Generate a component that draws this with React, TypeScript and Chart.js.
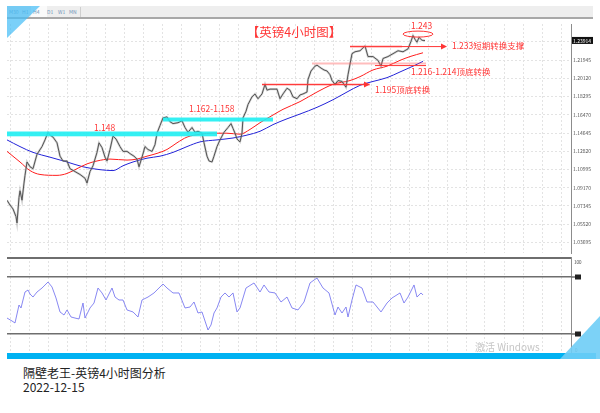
import React, { useEffect, useRef } from 'react';
import { Chart, registerables } from 'chart.js';

Chart.register(...registerables);

const FONT = '"Noto Sans CJK SC", "Noto Sans", sans-serif';

// ---------------- data ----------------
// x = bar number counted from the first visible 4h bar
const priceBars = [
  0, 3, 6, 9, 10, 12, 13, 15, 17, 18,
  20, 23, 26, 30, 35, 38, 41, 43, 46, 50,
  53, 56, 60, 63, 68, 73, 78, 80, 83, 86,
  90, 92, 95, 98, 100, 103, 106, 109, 113, 116,
  120, 124, 127, 130, 132, 135, 138, 141, 145, 148,
  150, 153, 156, 160, 163, 166, 171, 175, 178, 181,
  185, 188, 191, 195, 197, 200, 202, 205, 207, 210,
  213, 217, 221, 224, 226, 228, 230, 233, 235, 236,
  239, 241, 245, 248, 251, 255, 258, 260, 263, 266,
  270, 273, 276, 280, 283, 286, 290, 293, 296, 300,
  301, 304, 308, 310, 314, 317, 320, 323, 325, 328,
  331, 335, 339, 341, 345, 348, 353, 358, 361, 366,
  371, 374, 376, 381, 386, 391, 396, 401, 404, 406,
  408, 410, 412, 415, 418,
];
const priceClose = [
  1.0792, 1.0744, 1.0705, 1.0628, 1.0565, 1.0820, 1.0887, 1.0792, 1.0964, 1.1041,
  1.1175, 1.1127, 1.1108, 1.1252, 1.1329, 1.1396, 1.1472, 1.1444, 1.1424, 1.1367,
  1.1233, 1.1185, 1.1185, 1.1108, 1.1079, 1.1050, 1.1012, 1.0964, 1.1079, 1.1137,
  1.1271, 1.1367, 1.1319, 1.1223, 1.1185, 1.1300, 1.1434, 1.1405, 1.1329, 1.1281,
  1.1281, 1.1252, 1.1233, 1.1204, 1.1127, 1.1223, 1.1329, 1.1300, 1.1281, 1.1348,
  1.1463, 1.1540, 1.1616, 1.1626, 1.1578, 1.1559, 1.1568, 1.1587, 1.1520, 1.1472,
  1.1520, 1.1472, 1.1482, 1.1463, 1.1367, 1.1233, 1.1185, 1.1175, 1.1233, 1.1329,
  1.1396, 1.1472, 1.1520, 1.1559, 1.1511, 1.1463, 1.1405, 1.1376, 1.1463, 1.1616,
  1.1683, 1.1750, 1.1827, 1.1856, 1.1808, 1.1856, 1.1952, 1.1894, 1.1904, 1.1904,
  1.1904, 1.1808, 1.1856, 1.1913, 1.1894, 1.1827, 1.1808, 1.1846, 1.1856, 1.1875,
  1.2000, 1.2086, 1.2134, 1.2144, 1.2115, 1.2096, 1.2086, 1.2048, 1.1990, 1.1952,
  1.1990, 1.1981, 1.1923, 1.2048, 1.2259, 1.2278, 1.2288, 1.2336, 1.2230, 1.2230,
  1.2192, 1.2134, 1.2211, 1.2230, 1.2259, 1.2288, 1.2278, 1.2307, 1.2383, 1.2441,
  1.2403, 1.2374, 1.2422, 1.2393, 1.2391,
];

const redMaBars = [
  0, 13, 23, 33, 50, 60, 70, 80, 90, 103,
  120, 130, 140, 150, 160, 170, 180, 193, 206, 220,
  233, 243, 253, 266, 276, 293, 310, 326, 343, 353,
  366, 380, 393, 403, 416,
];
const redMaValues = [
  1.1281, 1.1175, 1.1089, 1.1050, 1.1041, 1.1060, 1.1108, 1.1156, 1.1185, 1.1204,
  1.1194, 1.1204, 1.1233, 1.1261, 1.1300, 1.1367, 1.1424, 1.1453, 1.1463, 1.1463,
  1.1453, 1.1501, 1.1568, 1.1645, 1.1702, 1.1779, 1.1875, 1.1952, 1.1990, 1.2029,
  1.2096, 1.2134, 1.2192, 1.2230, 1.2268,
];

const blueMaBars = [
  0, 13, 26, 43, 60, 76, 93, 106, 116, 126,
  140, 153, 166, 180, 193, 210, 226, 240, 253, 266,
  280, 293, 310, 326, 340, 353, 366, 380, 393, 406,
  416,
];
const blueMaValues = [
  1.1396, 1.1329, 1.1271, 1.1223, 1.1175, 1.1127, 1.1098, 1.1089, 1.1137, 1.1175,
  1.1213, 1.1233, 1.1271, 1.1329, 1.1376, 1.1396, 1.1415, 1.1444, 1.1482, 1.1549,
  1.1607, 1.1655, 1.1722, 1.1798, 1.1875, 1.1942, 1.1981, 1.2019, 1.2076, 1.2134,
  1.2182,
];

const oscBars = [
  0, 5, 8, 12, 14, 18, 21, 23, 26, 30,
  35, 41, 45, 49, 53, 57, 60, 64, 68, 72,
  76, 78, 83, 87, 91, 95, 99, 105, 108, 112,
  116, 120, 126, 131, 135, 141, 147, 151, 156, 160,
  166, 172, 178, 183, 187, 191, 195, 201, 204, 207,
  210, 214, 218, 222, 226, 230, 233, 239, 247, 253,
  257, 262, 268, 274, 280, 285, 291, 297, 303, 307,
  310, 316, 322, 328, 331, 335, 339, 341, 345, 349,
  355, 360, 366, 374, 380, 385, 393, 397, 401, 407,
  410, 414, 416,
];
const oscValues = [
  36.8, 33.7, 31.6, 50.5, 47.4, 64.2, 66.3, 62.1, 58.9, 64.2,
  68.4, 74.7, 69.5, 57.9, 43.2, 40.0, 45.3, 37.9, 36.8, 35.8,
  52.6, 36.8, 47.4, 52.6, 68.4, 63.2, 55.8, 68.4, 58.9, 55.8,
  55.8, 45.3, 43.2, 37.9, 55.8, 58.9, 63.2, 67.4, 72.6, 68.4,
  63.2, 63.2, 47.4, 48.4, 53.7, 42.1, 43.2, 24.2, 29.5, 42.1,
  47.4, 58.9, 63.2, 58.9, 63.2, 43.2, 47.4, 68.4, 73.7, 64.2,
  71.6, 64.2, 63.2, 53.7, 58.9, 47.4, 45.3, 53.7, 73.7, 76.8,
  78.9, 68.4, 63.2, 40.0, 48.4, 42.1, 48.4, 37.9, 55.8, 71.6,
  68.4, 53.7, 53.7, 43.2, 52.6, 57.9, 63.2, 52.6, 58.9, 71.6,
  58.9, 63.2, 61.1,
];

const priceTicks = [
  1.03695, 1.0552, 1.07345, 1.0917, 1.10995, 1.1282,
  1.14645, 1.1647, 1.18295, 1.2012, 1.21945, 1.2377,
];
const oscTicks = [0, 20, 80, 100];
const oscLevels = [20, 80];
const lastPrice = 1.23914;
const timeframes = ['M30', 'H1', 'H4', 'D1', 'W1', 'MN'];

// ---------------- view settings ----------------
const X_MAX = 564;
const GRID_FIRST = 3;
const GRID_STEP = 19;
const PRICE_MIN = 1.0264;
const PRICE_MAX = 1.2556;
const OSC_MIN = -1.05;
const OSC_MAX = 101.05;
const RED = '#ff3535';

const zones = [
  { low: 1.1432, high: 1.148, from: 0, to: 210 },
  { low: 1.158, high: 1.162, from: 156, to: 266 },
];
const levels = [
  { price: 1.233, from: 343, to: 395, color: 'rgba(255,90,90,0.35)', width: 2.5, arrow: false },
  { price: 1.233, from: 343, to: 440, color: RED, width: 1, arrow: true },
  { price: 1.216, from: 305, to: 419, color: 'rgba(255,90,90,0.4)', width: 2, arrow: false },
  { price: 1.214, from: 368, to: 419, color: RED, width: 1, arrow: false },
  { price: 1.195, from: 255, to: 363, color: 'rgba(255,90,90,0.35)', width: 2.5, arrow: false },
  { price: 1.195, from: 255, to: 363, color: RED, width: 1, arrow: true },
];
const notes = [
  { text: '【英镑4小时图】', x: 287, price: 1.247, size: 12.5, align: 'center' },
  { text: '1.243', x: 404, price: 1.2542, size: 8.5, align: 'left' },
  { text: '1.233短期转换支撑', x: 445, price: 1.2336, size: 8.5, align: 'left' },
  { text: '1.216-1.214顶底转换', x: 404, price: 1.2077, size: 8.5, align: 'left' },
  { text: '1.195顶底转换', x: 368, price: 1.1894, size: 8.5, align: 'left' },
  { text: '1.162-1.158', x: 182, price: 1.1712, size: 8.5, align: 'left' },
  { text: '1.148', x: 87, price: 1.152, size: 8.5, align: 'left' },
];
const ring = { x: 411, price: 1.2455, rx: 15, ry: 3 };

const pts = (xs: number[], ys: number[]) =>
  xs.slice(0, Math.min(xs.length, ys.length)).map((x, i) => ({ x, y: ys[i] }));

const gridTicks = () => {
  const t: { value: number }[] = [];
  for (let v = GRID_FIRST; v < X_MAX; v += GRID_STEP) t.push({ value: v });
  return t;
};

const xScale = {
  type: 'linear' as const,
  min: 0,
  max: X_MAX,
  afterBuildTicks: (s: any) => { s.ticks = gridTicks(); },
  afterFit: (s: any) => { s.height = 0; },
  ticks: { display: false },
  grid: { color: '#e3e3e3', drawTicks: false, lineWidth: 1 },
  border: { display: false, dash: [2, 2] },
};

const mainPlugin = {
  id: 'mainAnnotations',
  afterDatasetsDraw(chart: any) {
    const { ctx, scales, chartArea } = chart;
    const x = scales.x, y = scales.y;
    ctx.save();
    for (const z of zones) {
      const x0 = x.getPixelForValue(z.from), x1 = x.getPixelForValue(z.to);
      const y0 = y.getPixelForValue(z.high), y1 = y.getPixelForValue(z.low);
      ctx.fillStyle = 'rgba(30,238,242,0.9)';
      ctx.fillRect(x0, y0, x1 - x0, y1 - y0);
    }
    for (const l of levels) {
      const x0 = x.getPixelForValue(l.from), x1 = x.getPixelForValue(l.to);
      const py = y.getPixelForValue(l.price);
      ctx.strokeStyle = l.color;
      ctx.lineWidth = l.width;
      ctx.beginPath();
      ctx.moveTo(x0, py);
      ctx.lineTo(l.arrow ? x1 - 4 : x1, py);
      ctx.stroke();
      if (l.arrow) {
        ctx.fillStyle = l.color;
        ctx.beginPath();
        ctx.moveTo(x1, py);
        ctx.lineTo(x1 - 6, py - 3);
        ctx.lineTo(x1 - 6, py + 3);
        ctx.closePath();
        ctx.fill();
      }
    }
    ctx.strokeStyle = RED;
    ctx.lineWidth = 1;
    ctx.beginPath();
    ctx.ellipse(x.getPixelForValue(ring.x), y.getPixelForValue(ring.price), ring.rx, ring.ry, 0, 0, Math.PI * 2);
    ctx.stroke();
    ctx.fillStyle = RED;
    ctx.textBaseline = 'middle';
    for (const n of notes) {
      ctx.font = `${n.size}px ${FONT}`;
      ctx.textAlign = n.align as CanvasTextAlign;
      ctx.fillText(n.text, x.getPixelForValue(n.x), y.getPixelForValue(n.price));
    }
    // current price tag
    const py = y.getPixelForValue(lastPrice);
    ctx.fillStyle = '#111';
    ctx.fillRect(chartArea.right + 1, py - 3.5, 21, 7);
    ctx.fillStyle = '#fff';
    ctx.font = `5px ${FONT}`;
    ctx.textAlign = 'left';
    ctx.fillText(lastPrice.toFixed(5), chartArea.right + 2, py + 0.5);
    ctx.restore();
  },
};

const oscPlugin = {
  id: 'oscAxis',
  afterDraw(chart: any) {
    const { ctx, scales, chartArea } = chart;
    const y = scales.y;
    const r = chartArea.right;
    ctx.save();
    ctx.fillStyle = '#444';
    ctx.font = `4.5px ${FONT}`;
    ctx.textBaseline = 'middle';
    ctx.textAlign = 'left';
    ctx.fillText('100', r + 3, y.getPixelForValue(100) + 4);
    ctx.fillText('0', r + 4, y.getPixelForValue(0) - 3);
    for (const lv of oscLevels) {
      const py = y.getPixelForValue(lv);
      ctx.strokeStyle = '#6e6e6e';
      ctx.lineWidth = 1.5;
      ctx.beginPath();
      ctx.moveTo(r, py);
      ctx.lineTo(r + 4, py);
      ctx.stroke();
      ctx.fillStyle = '#222';
      ctx.fillRect(r + 4, py - 2.5, 6, 5);
    }
    ctx.restore();
  },
};

export default function App() {
  const mainRef = useRef<HTMLCanvasElement>(null);
  const oscRef = useRef<HTMLCanvasElement>(null);

  useEffect(() => {
    Chart.defaults.font.family = FONT;
    const pricePts = pts(priceBars, priceClose);
    const main = new Chart(mainRef.current as HTMLCanvasElement, {
      type: 'line',
      data: {
        datasets: [
          { data: pricePts, borderColor: 'rgba(140,140,140,0.4)', borderWidth: 2.2, pointRadius: 0 },
          { data: pricePts, borderColor: '#2e2e2e', borderWidth: 1, pointRadius: 0 },
          { data: pts(redMaBars, redMaValues), borderColor: '#ff1e1e', borderWidth: 1, pointRadius: 0, cubicInterpolationMode: 'monotone' },
          { data: pts(blueMaBars, blueMaValues), borderColor: '#2323d8', borderWidth: 1, pointRadius: 0, cubicInterpolationMode: 'monotone' },
        ],
      },
      options: {
        responsive: false,
        animation: false,
        events: [],
        layout: { padding: 0 },
        plugins: { legend: { display: false }, tooltip: { enabled: false } },
        scales: {
          x: xScale,
          y: {
            position: 'right',
            min: PRICE_MIN,
            max: PRICE_MAX,
            afterBuildTicks: (s: any) => { s.ticks = priceTicks.map((v) => ({ value: v })); },
            afterFit: (s: any) => { s.width = 29; },
            ticks: {
              autoSkip: false,
              padding: 2,
              color: '#555',
              font: { size: 5, family: FONT },
              callback: (v: any) => (Number(v) > 1.23 ? '' : Number(v).toFixed(5)),
            },
            grid: { color: '#e3e3e3', drawTicks: false },
            border: { display: true, color: '#8c8c8c', width: 1, dash: [2, 2] },
          },
        },
      } as any,
      plugins: [mainPlugin],
    });

    const osc = new Chart(oscRef.current as HTMLCanvasElement, {
      type: 'line',
      data: {
        datasets: [
          { data: pts(oscBars, oscValues), borderColor: 'rgba(115,115,240,0.85)', borderWidth: 1, pointRadius: 0 },
        ],
      },
      options: {
        responsive: false,
        animation: false,
        events: [],
        layout: { padding: 0 },
        plugins: { legend: { display: false }, tooltip: { enabled: false } },
        scales: {
          x: xScale,
          y: {
            position: 'right',
            min: OSC_MIN,
            max: OSC_MAX,
            afterBuildTicks: (s: any) => { s.ticks = oscTicks.map((v) => ({ value: v })); },
            afterFit: (s: any) => { s.width = 29; },
            ticks: { display: false },
            grid: {
              drawTicks: false,
              color: (c: any) => {
                const v = c.tick && c.tick.value;
                return v === 100 || v === 80 || v === 20 ? '#6e6e6e' : 'rgba(0,0,0,0)';
              },
              lineWidth: (c: any) => (c.tick && c.tick.value === 100 ? 2 : 1.5),
            },
            border: { display: true, color: '#8c8c8c', width: 1 },
          },
        },
      } as any,
      plugins: [oscPlugin],
    });

    return () => {
      main.destroy();
      osc.destroy();
    };
  }, []);

  const tabX = [9, 22, 33, 47, 58, 69];

  return (
    <div style={{ position: 'fixed', left: 0, top: 0, width: 600, height: 413, background: '#fff', overflow: 'hidden', fontFamily: FONT }}>
      <div style={{ position: 'absolute', left: 7, top: 6, width: 586, height: 11, background: '#eeeeee', borderBottom: '2px solid #a8a8a8' }} />
      <div style={{ position: 'absolute', left: 31, top: 6, width: 16, height: 11, background: '#fafafa' }} />
      <div style={{ position: 'absolute', left: 80, top: 7, width: 1, height: 10, background: '#cfcfcf' }} />
      {timeframes.map((t, i) => (
        <div key={t} style={{ position: 'absolute', left: tabX[i], top: 8, fontSize: 5, lineHeight: '7px', color: '#6f93b8' }}>{t}</div>
      ))}
      <canvas ref={mainRef} width={593} height={239} style={{ position: 'absolute', left: 7, top: 19 }} />
      <canvas ref={oscRef} width={593} height={97} style={{ position: 'absolute', left: 7, top: 257 }} />
      <div style={{ position: 'absolute', left: 475, top: 340, fontSize: 10, lineHeight: '14px', color: '#c6c6c6', whiteSpace: 'nowrap' }}>激活 Windows</div>
      <div style={{ position: 'absolute', left: 7, top: 353, width: 589, height: 6, background: '#00b2f2' }} />
      <div style={{ position: 'absolute', left: 560, top: 316, width: 40, height: 43, background: 'rgba(110,205,246,0.9)', clipPath: 'polygon(100% 0, 100% 100%, 0 100%)' }} />
      <div style={{ position: 'absolute', left: 7, top: 6, width: 33, height: 32, background: 'rgba(70,190,246,0.72)', clipPath: 'polygon(0 0, 100% 0, 0 100%)' }} />
      <div style={{ position: 'absolute', left: 23, top: 365, fontSize: 12, lineHeight: '16px', color: '#222', whiteSpace: 'nowrap' }}>隔壁老王-英镑4小时图分析</div>
      <div style={{ position: 'absolute', left: 23, top: 379, fontSize: 12, lineHeight: '16px', color: '#222', whiteSpace: 'nowrap' }}>2022-12-15</div>
    </div>
  );
}
